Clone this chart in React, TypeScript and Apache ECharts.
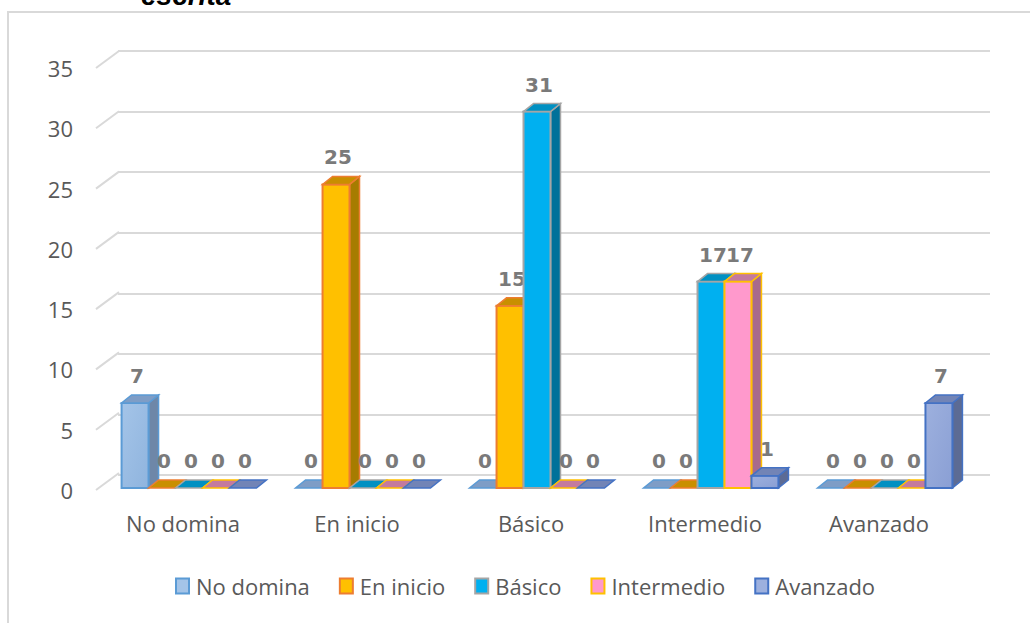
import React, { useEffect, useRef } from "react";
import * as echarts from "echarts";

const categories = ["No domina", "En inicio", "Básico", "Intermedio", "Avanzado"];
const seriesNames = ["No domina", "En inicio", "Básico", "Intermedio", "Avanzado"];
const noDomina = [7, 0, 0, 0, 0];
const enInicio = [0, 25, 15, 0, 0];
const basico = [0, 0, 31, 17, 0];
const intermedio = [0, 0, 0, 17, 0];
const avanzado = [0, 0, 0, 1, 7];
const yTicks = [0, 5, 10, 15, 20, 25, 30, 35];
const titleText = "escrita";

const seriesValues = [noDomina, enInicio, basico, intermedio, avanzado];

const palette = [
  { front: "#A4C4E8", front2: "#8FB4DE", border: "#5B9BD5", side: "#6E87A8", top: "#7E9DC6" },
  { front: "#FFC000", front2: "#FFC000", border: "#ED7D31", side: "#A67C00", top: "#C98F00" },
  { front: "#00B0F0", front2: "#00B0F0", border: "#A5A5A5", side: "#00719A", top: "#0090C2" },
  { front: "#FF99CC", front2: "#FF99CC", border: "#FFC000", side: "#A86A8C", top: "#C47A9E" },
  { front: "#9DB0DE", front2: "#8A9FD4", border: "#4472C4", side: "#5C6B94", top: "#7284B6" },
];

const DX = 10;
const DY = -8;
const LABEL_FONT = "Open Sans";

export default function App() {
  const ref = useRef<HTMLDivElement>(null);
  useEffect(() => {
    const chart = echarts.init(ref.current!, null, { renderer: "svg" });

    const barSeries = seriesValues.map((vals, s) => {
      const col = palette[s];
      return {
        type: "custom",
        name: seriesNames[s],
        xAxisIndex: 2,
        yAxisIndex: 2,
        itemStyle: { color: col.front, borderColor: col.border },
        data: vals.map((v, i) => [i, v]),
        renderItem: (params: any, api: any) => {
          const cat = api.value(0);
          const v = api.value(1);
          const top = api.coord([cat, v]);
          const bot = api.coord([cat, 0]);
          const catW = api.size([1, 0])[0];
          const bw = catW * 0.155;
          const x0 = top[0] - 2.5 * bw + s * bw;
          const x1 = x0 + bw;
          const yT = top[1];
          const yB = bot[1];
          const children: any[] = [];
          const lw = 1.5;
          if (v > 0) {
            children.push({
              type: "polygon",
              shape: { points: [[x1, yT], [x1 + DX, yT + DY], [x1 + DX, yB + DY], [x1, yB]] },
              style: { fill: col.side, stroke: col.border, lineWidth: lw },
            });
            children.push({
              type: "rect",
              shape: { x: x0, y: yT, width: bw, height: yB - yT },
              style: {
                fill: new echarts.graphic.LinearGradient(0, 0, 1, 1, [
                  { offset: 0, color: col.front },
                  { offset: 1, color: col.front2 },
                ]),
                stroke: col.border,
                lineWidth: 2,
              },
            });
          }
          children.push({
            type: "polygon",
            shape: { points: [[x0, yT], [x1, yT], [x1 + DX, yT + DY], [x0 + DX, yT + DY]] },
            style: { fill: col.top, stroke: col.border, lineWidth: lw },
          });
          children.push({
            type: "text",
            style: {
              text: String(v),
              x: x0 + bw / 2 + 2,
              y: yT - 27,
              align: "center",
              verticalAlign: "middle",
              fill: "#7A7A7A",
              font: "bold 20px 'DejaVu Sans'",
            },
          });
          return { type: "group", children };
        },
      };
    });

    const option: any = {
      animation: false,
      graphic: [
        {
          type: "rect",
          shape: { x: 8, y: 12, width: 1100, height: 700 },
          style: { fill: "none", stroke: "#D9D9D9", lineWidth: 2 },
          z: -10,
          silent: true,
        },
        {
          type: "text",
          style: {
            text: titleText,
            x: 141,
            y: -5,
            verticalAlign: "middle",
            fill: "#000000",
            font: "italic bold 28px 'Liberation Sans'",
          },
        },
      ],
      legend: {
        left: 170,
        top: 570,
        icon: "rect",
        itemWidth: 13,
        itemHeight: 15,
        itemGap: 29,
        textStyle: {
          color: "#595959",
          fontSize: 22,
          fontFamily: LABEL_FONT,
          padding: [0, 0, 0, 2],
        },
        data: seriesNames.map((n, i) => ({
          name: n,
          itemStyle: { color: palette[i].front, borderColor: palette[i].border, borderWidth: 2 },
        })),
      },
      grid: [
        { left: 118, top: 51, width: 872, height: 424, containLabel: false },
        { left: 96, top: 68, width: 870, height: 422, containLabel: false },
        { left: 102, top: 63, width: 870, height: 425, containLabel: false },
      ],
      xAxis: [
        { type: "category", gridIndex: 0, data: categories, show: false },
        {
          type: "category",
          gridIndex: 1,
          data: categories,
          axisLine: { show: false },
          axisTick: { show: false },
          axisLabel: { color: "#595959", fontSize: 22, fontFamily: LABEL_FONT, margin: 22 },
        },
        { type: "category", gridIndex: 2, data: categories, show: false },
      ],
      yAxis: [
        {
          type: "value",
          gridIndex: 0,
          min: 0,
          max: 35,
          interval: 5,
          axisLine: { show: false },
          axisTick: { show: false },
          axisLabel: { show: false },
          splitLine: { lineStyle: { color: "#D9D9D9", width: 2 } },
        },
        {
          type: "value",
          gridIndex: 1,
          min: 0,
          max: 35,
          interval: 5,
          axisLine: { show: false },
          axisTick: { show: false },
          splitLine: { show: false },
          axisLabel: { color: "#595959", fontSize: 22, fontFamily: LABEL_FONT, margin: 23 },
        },
        {
          type: "value",
          gridIndex: 2,
          min: 0,
          max: 35,
          interval: 5,
          show: false,
          splitLine: { show: false },
        },
      ],
      series: [
        {
          type: "custom",
          name: "_diag",
          xAxisIndex: 1,
          yAxisIndex: 1,
          silent: true,
          data: yTicks.map((t) => [0, t]),
          renderItem: (params: any, api: any) => {
            const p = api.coord([0, api.value(1)]);
            const x = params.coordSys.x;
            return {
              type: "line",
              shape: { x1: x, y1: p[1], x2: x + 23, y2: p[1] - 17 },
              style: { stroke: "#D9D9D9", lineWidth: 2 },
            };
          },
        },
        ...barSeries,
      ],
    };
    chart.setOption(option);
    return () => chart.dispose();
  }, []);
  return (
    <div
      ref={ref}
      style={{ position: "absolute", left: 0, top: 0, width: 1030, height: 623, background: "#fff" }}
    />
  );
}
